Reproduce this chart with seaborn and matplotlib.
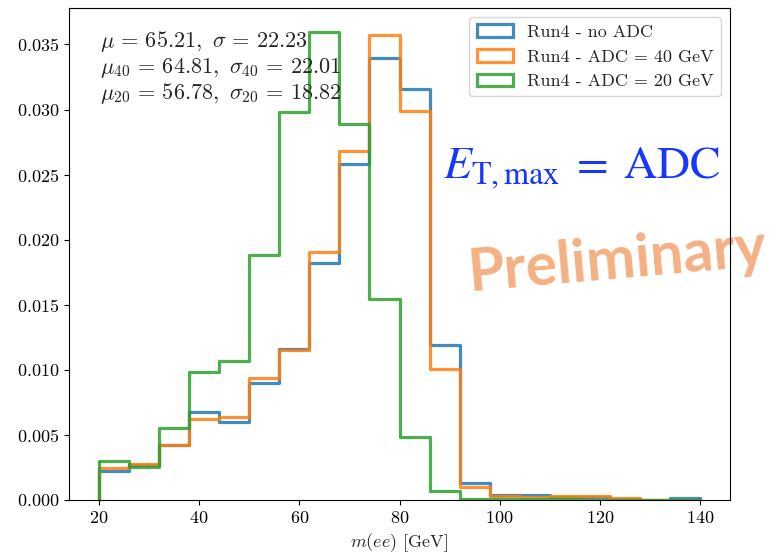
import numpy as np
import pandas as pd
import matplotlib
matplotlib.use("Agg")
import matplotlib.pyplot as plt
from matplotlib.patches import Patch
import seaborn as sns

# ---- data ----
bin_edges = [20, 26, 32, 38, 44, 50, 56, 62, 68, 74, 80, 86, 92, 98, 104, 110, 116, 122, 128, 134, 140]
no_adc = [0.00226, 0.00270, 0.00420, 0.00674, 0.00603, 0.00897, 0.01160, 0.01820, 0.02582, 0.03397,
          0.03154, 0.01192, 0.00128, 0.00038, 0.00038, 0.00024, 0.00022, 0.00010, 0.00002, 0.00014]
adc_40 = [0.00246, 0.00274, 0.00423, 0.00623, 0.00636, 0.00938, 0.01150, 0.01905, 0.02680, 0.03572,
          0.02987, 0.01005, 0.00103, 0.00027, 0.00022, 0.00027, 0.00030, 0.00018, 0.00000, 0.00000]
adc_20 = [0.00302, 0.00256, 0.00550, 0.00982, 0.01070, 0.01885, 0.02980, 0.03595, 0.02885, 0.01544,
          0.00487, 0.00069, 0.00008, 0.00006, 0.00005, 0.00004, 0.00003, 0.00002, 0.00002, 0.00000]
labels = ["Run4 - no ADC", "Run4 - ADC = 40 GeV", "Run4 - ADC = 20 GeV"]
colors = ["#1f77b4", "#ff7f0e", "#2ca02c"]
stats_text = (r"$\mu \,=\, 65.21,\ \sigma \,=\, 22.23$" "\n"
              r"$\mu_{40} \,=\, 64.81,\ \sigma_{40} \,=\, 22.01$" "\n"
              r"$\mu_{20} \,=\, 56.78,\ \sigma_{20} \,=\, 18.82$")

sns.set_style("ticks", rc={"axes.edgecolor": "black", "xtick.color": "black",
                           "ytick.color": "black", "axes.linewidth": 1.0})
plt.rcParams["font.family"] = "serif"
plt.rcParams["font.serif"] = ["cmr10"]
plt.rcParams["mathtext.fontset"] = "cm"
plt.rcParams["axes.formatter.use_mathtext"] = True
plt.rcParams["font.size"] = 13

edges = np.array(bin_edges, dtype=float)
centers = (edges[:-1] + edges[1:]) / 2
rows = []
for lab, vals in zip(labels, [no_adc, adc_40, adc_20]):
    for c, v in zip(centers, vals):
        rows.append({"m": c, "w": v, "run": lab})
df = pd.DataFrame(rows)

fig = plt.figure(figsize=(7.7, 5.56), dpi=100)
ax = fig.add_axes([69 / 770, 1 - 500 / 556, 661 / 770, 492 / 556])

lw = 2.3
for lab, col, vals in zip(labels, colors, [no_adc, adc_40, adc_20]):
    sub = df[df["run"] == lab]
    sns.histplot(data=sub, x="m", weights="w", bins=list(bin_edges), element="step", fill=False,
                 color=col, lw=lw, alpha=0.85, ax=ax, stat="count")
    ax.vlines([edges[0], edges[-1]], 0, [vals[0], vals[-1]], colors=col, lw=lw, alpha=0.85)

ax.set_xlim(14, 146)
ax.set_ylim(0, 0.0378)
ax.set_xlabel(r"$m(ee)$ [GeV]", fontsize=13)
ax.set_ylabel("")
ax.tick_params(labelsize=13)

handles = [Patch(facecolor="none", edgecolor=c, lw=lw, alpha=0.85) for c in colors]
ax.legend(handles, labels, loc="upper right", fontsize=13)

ax.text(0.047, 0.957, stats_text, transform=ax.transAxes, ha="left", va="top",
        fontsize=16, linespacing=1.08)

fig.text(443 / 770, 1 - 178 / 556, r"$E_{\mathrm{T,max}} \;=\; \mathrm{ADC}$", color="#1637ff",
         fontsize=33, math_fontfamily="stix", ha="left", va="baseline")
ax.text(469 / 770, 1 - 291 / 556, "Preliminary", transform=fig.transFigure, color="#f4b183",
        fontsize=42.3, fontweight="bold", family="Lato", rotation=5, rotation_mode="anchor",
        ha="left", va="baseline", clip_on=False, zorder=2)

fig.savefig("out.png", dpi=100)
